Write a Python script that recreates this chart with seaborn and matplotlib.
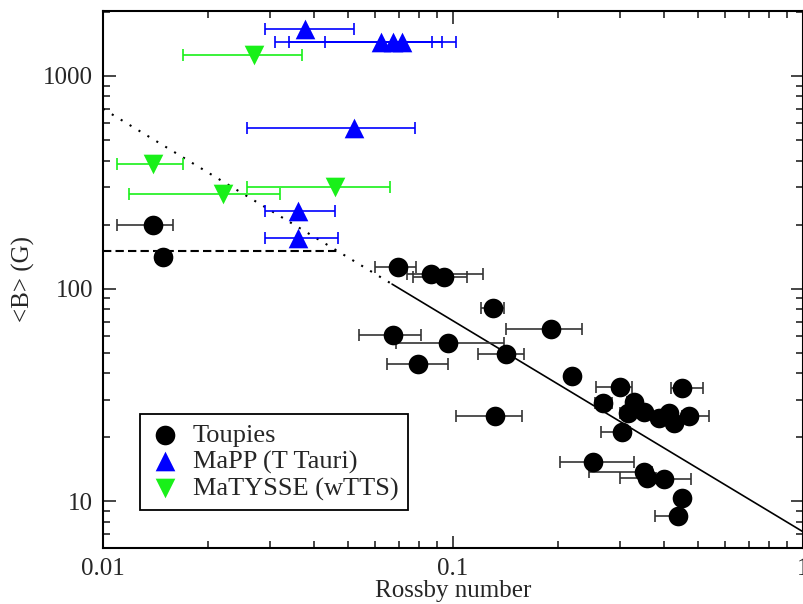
import numpy as np
import pandas as pd
import matplotlib
matplotlib.use("Agg")
import matplotlib.pyplot as plt
import matplotlib.ticker as mticker
import seaborn as sns

# ---------------- data ----------------
toupies_ro = [0.0139, 0.0148, 0.0698, 0.0868, 0.0945, 0.130, 0.0675, 0.097, 0.142, 0.0796,
              0.132, 0.190, 0.219, 0.300, 0.451, 0.269, 0.329, 0.316, 0.351, 0.388,
              0.414, 0.428, 0.472, 0.304, 0.251, 0.351, 0.358, 0.400, 0.450, 0.440]
toupies_b = [200, 141, 126, 117, 113, 81, 60.7, 55.6, 49.4, 44.4,
             25.2, 64.7, 38.9, 34.6, 34.2, 29.0, 29.2, 26.1, 26.3, 24.7,
             26.1, 23.4, 25.2, 21.2, 15.3, 13.8, 12.9, 12.7, 10.4, 8.5]
toupies_lo = [0.0110, 0.0142, 0.0597, 0.0738, 0.077, 0.120, 0.054, 0.0686, 0.118, 0.065,
              0.102, 0.142, 0.212, 0.256, 0.420, 0.255, 0.315, 0.300, 0.340, 0.370,
              0.400, 0.410, 0.450, 0.265, 0.202, 0.245, 0.300, 0.370, 0.435, 0.378]
toupies_hi = [0.0159, 0.0155, 0.0786, 0.122, 0.110, 0.140, 0.081, 0.140, 0.160, 0.097,
              0.157, 0.234, 0.226, 0.325, 0.518, 0.285, 0.345, 0.330, 0.365, 0.400,
              0.430, 0.445, 0.540, 0.320, 0.330, 0.370, 0.380, 0.480, 0.465, 0.455]

mapp_ro = [0.0379, 0.0621, 0.0676, 0.0717, 0.052, 0.036, 0.036]
mapp_b = [1660, 1450, 1450, 1440, 570, 232, 173]
mapp_lo = [0.029, 0.031, 0.034, 0.043, 0.0258, 0.029, 0.029]
mapp_hi = [0.052, 0.087, 0.093, 0.102, 0.078, 0.0459, 0.0468]

matysse_ro = [0.027, 0.0139, 0.022, 0.0459]
matysse_b = [1250, 385, 279, 301]
matysse_lo = [0.0169, 0.0110, 0.0119, 0.0258]
matysse_hi = [0.037, 0.0169, 0.032, 0.066]

# fitted relations
fit_dotted_x = [0.01, 0.067]
fit_dotted_y = [700, 105]
fit_solid_x = [0.067, 1.0]
fit_solid_y = [105, 7.2]
sat_x = [0.01, 0.047]
sat_y = [150, 150]

# ---------------- style ----------------
sns.set_style("ticks")
plt.rcParams['font.family'] = ['Liberation Serif', 'DejaVu Serif']
plt.rcParams['font.size'] = 17

fig = plt.figure(figsize=(8.04, 6.04), dpi=100)
ax = fig.add_axes([0.128, 0.0927, 0.8708, 0.8893])

blue = '#0000ff'
green = '#19f019'


def xerr(ro, lo, hi):
    ro = np.asarray(ro); lo = np.asarray(lo); hi = np.asarray(hi)
    return np.vstack([ro - lo, hi - ro])


ekw = dict(fmt='none', elinewidth=1.2, capsize=4, capthick=1.2, zorder=2)
ax.errorbar(toupies_ro, toupies_b, xerr=xerr(toupies_ro, toupies_lo, toupies_hi), ecolor='#333333', **ekw)
ax.errorbar(mapp_ro, mapp_b, xerr=xerr(mapp_ro, mapp_lo, mapp_hi), ecolor=blue, **ekw)
ax.errorbar(matysse_ro, matysse_b, xerr=xerr(matysse_ro, matysse_lo, matysse_hi), ecolor=green, **ekw)

# fit lines
ax.plot(fit_dotted_x, fit_dotted_y, color='black', lw=1.5, linestyle=(0, (1, 4)), zorder=1)
ax.plot(fit_solid_x, fit_solid_y, color='black', lw=1.2, zorder=1)
ax.plot(sat_x, sat_y, color='black', lw=1.5, linestyle=(0, (4, 2)), zorder=1)

df_t = pd.DataFrame({'ro': toupies_ro, 'b': toupies_b})
df_m = pd.DataFrame({'ro': mapp_ro, 'b': mapp_b})
df_w = pd.DataFrame({'ro': matysse_ro, 'b': matysse_b})

sns.scatterplot(data=df_t, x='ro', y='b', ax=ax, marker='o', s=200, color='black',
                linewidth=0, label='Toupies', zorder=3)
sns.scatterplot(data=df_m, x='ro', y='b', ax=ax, marker='^', s=200, color=blue,
                linewidth=0, label='MaPP (T Tauri)', zorder=3)
sns.scatterplot(data=df_w, x='ro', y='b', ax=ax, marker='v', s=200, color=green,
                linewidth=0, label='MaTYSSE (wTTS)', zorder=3)

ax.set_xscale('log')
ax.set_yscale('log')
ax.set_xlim(0.01, 1.0)
ax.set_ylim(6.04, 2020)

fmt = mticker.FuncFormatter(lambda v, p: '%g' % v)
ax.xaxis.set_major_locator(mticker.FixedLocator([0.01, 0.1, 1]))
ax.xaxis.set_major_formatter(fmt)
ax.xaxis.set_minor_locator(mticker.LogLocator(base=10, subs=np.arange(2, 10)))
ax.xaxis.set_minor_formatter(mticker.NullFormatter())
ax.yaxis.set_major_locator(mticker.FixedLocator([10, 100, 1000]))
ax.yaxis.set_major_formatter(fmt)
ax.yaxis.set_minor_locator(mticker.LogLocator(base=10, subs=np.arange(2, 10)))
ax.yaxis.set_minor_formatter(mticker.NullFormatter())

ax.tick_params(which='both', direction='in', top=True, right=True, width=1.2, labelsize=18)
ax.tick_params(which='major', length=9, pad=7)
ax.tick_params(which='minor', length=5)
for sp in ax.spines.values():
    sp.set_linewidth(1.5)
    sp.set_color('black')

ax.set_xlabel('Rossby number', fontsize=18, labelpad=0)
ax.set_ylabel('<B> (G)', fontsize=18, labelpad=6)

leg = ax.legend(loc='lower left', bbox_to_anchor=(0.053, 0.071), borderaxespad=0,
                fancybox=False, framealpha=1, edgecolor='black', fontsize=19,
                handletextpad=0.45, borderpad=0.35, labelspacing=0.12,
                handlelength=1.2, markerscale=1.0)
leg.get_frame().set_linewidth(1.3)

fig.savefig('out.png', dpi=100)
